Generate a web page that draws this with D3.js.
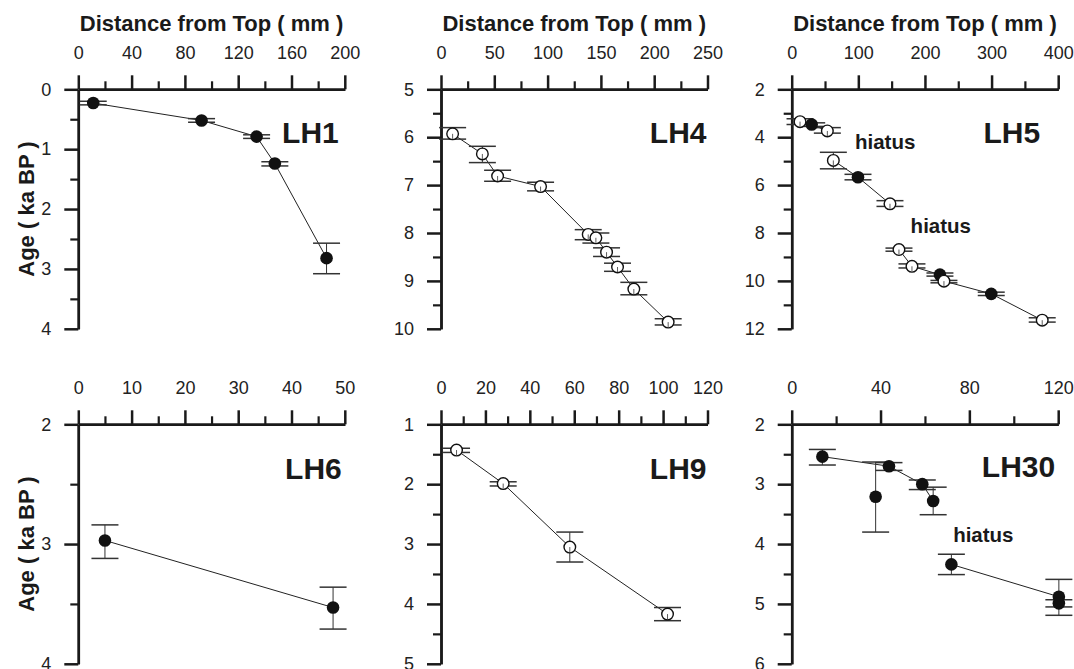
<!DOCTYPE html>
<html>
<head>
<meta charset="utf-8">
<script src="https://cdn.jsdelivr.net/npm/d3@7"></script>
<style>
body { margin: 0; background: #fff; }
svg { display: block; font-family: "Liberation Sans", Arial, sans-serif; }
.axis path, .axis line { stroke: #1a1a1a; }
.axis text { fill: #222; font-size: 18px; font-family: "Liberation Sans", Arial, sans-serif; }
</style>
</head>
<body>
<svg id="chart" width="1074" height="669"></svg>
<script>
// ---- data ----
// LH1
var lh1Dist = [11.2, 92.5, 133.8, 147.5, 186.3];
var lh1Age  = [0.23, 0.52, 0.79, 1.24, 2.82];
var lh1Lo   = [0.20, 0.49, 0.76, 1.21, 2.57];
var lh1Hi   = [0.26, 0.55, 0.82, 1.28, 3.08];
var lh1Open = [0, 0, 0, 0, 0];
var lh1Seg  = [0, 0, 0, 0, 0];
var lh1XTicks = [0, 40, 80, 120, 160, 200];
var lh1YTicks = [0, 1, 2, 3, 4];

// LH4
var lh4Dist = [10.9, 38.8, 53.1, 93.4, 138.1, 145.3, 155.3, 165.6, 180.9, 213.1];
var lh4Age  = [5.93, 6.35, 6.81, 7.03, 8.03, 8.10, 8.40, 8.71, 9.17, 9.86];
var lh4Lo   = [5.80, 6.19, 6.69, 6.94, 7.93, 8.00, 8.31, 8.63, 9.03, 9.79];
var lh4Hi   = [6.04, 6.53, 6.92, 7.12, 8.14, 8.21, 8.49, 8.80, 9.29, 9.92];
var lh4Open = [1, 1, 1, 1, 1, 1, 1, 1, 1, 1];
var lh4Seg  = [0, 0, 0, 0, 0, 0, 0, 0, 0, 0];
var lh4XTicks = [0, 50, 100, 150, 200, 250];
var lh4YTicks = [5, 6, 7, 8, 9, 10];

// LH5
var lh5Dist = [12.5, 30, 53.5, 62.5, 99.5, 147.5, 161, 180.5, 222.5, 228.5, 299.5, 376];
var lh5Age  = [3.35, 3.47, 3.74, 4.97, 5.67, 6.78, 8.69, 9.39, 9.74, 10.01, 10.54, 11.64];
var lh5Lo   = [3.23, 3.40, 3.60, 4.63, 5.55, 6.65, 8.63, 9.29, 9.67, 9.98, 10.47, 11.54];
var lh5Hi   = [3.47, 3.55, 3.83, 5.32, 5.78, 6.89, 8.76, 9.46, 9.80, 10.08, 10.61, 11.72];
var lh5Open = [1, 0, 1, 1, 0, 1, 1, 1, 0, 1, 0, 1];
var lh5Seg  = [0, 0, 0, 1, 1, 1, 2, 2, 2, 2, 2, 2];
var lh5XTicks = [0, 100, 200, 300, 400];
var lh5YTicks = [2, 4, 6, 8, 10, 12];

// LH6
var lh6Dist = [5, 47.8];
var lh6Age  = [2.97, 3.53];
var lh6Lo   = [2.84, 3.36];
var lh6Hi   = [3.12, 3.71];
var lh6Open = [0, 0];
var lh6Seg  = [0, 0];
var lh6XTicks = [0, 10, 20, 30, 40, 50];
var lh6YTicks = [2, 3, 4];

// LH9
var lh9Dist = [7.0, 28, 58, 102];
var lh9Age  = [1.43, 1.99, 3.05, 4.17];
var lh9Lo   = [1.40, 1.96, 2.80, 4.06];
var lh9Hi   = [1.47, 2.03, 3.30, 4.28];
var lh9Open = [1, 1, 1, 1];
var lh9Seg  = [0, 0, 0, 0];
var lh9XTicks = [0, 20, 40, 60, 80, 100, 120];
var lh9YTicks = [1, 2, 3, 4, 5];

// LH30 (second point is not on the line)
var lh30Dist = [13.8, 37.8, 43.8, 58.8, 63.7, 71.9, 120.3, 120.3];
var lh30Age  = [2.54, 3.21, 2.70, 3.00, 3.28, 4.34, 4.88, 4.99];
var lh30Lo   = [2.42, 2.63, 2.64, 2.93, 3.05, 4.17, 4.59, 4.93];
var lh30Hi   = [2.68, 3.80, 2.77, 3.09, 3.51, 4.51, 5.19, 5.05];
var lh30Open = [0, 0, 0, 0, 0, 0, 0, 0];
var lh30Seg  = [0, -1, 0, 0, 0, 1, 1, 1];
var lh30XTicks = [0, 40, 80, 120];
var lh30YTicks = [2, 3, 4, 5, 6];

// hiatus notes [panel, dist, age]
var hiatusNotes = [["LH5", 95, 4.5], ["LH5", 178.5, 8.0], ["LH30", 72.7, 3.96]];

var panels = [
  {name: "LH1", dist: lh1Dist, age: lh1Age, lo: lh1Lo, hi: lh1Hi, open: lh1Open, seg: lh1Seg, xt: lh1XTicks, yt: lh1YTicks, col: 0, row: 0, lx: 6, ly: 54},
  {name: "LH4", dist: lh4Dist, age: lh4Age, lo: lh4Lo, hi: lh4Hi, open: lh4Open, seg: lh4Seg, xt: lh4XTicks, yt: lh4YTicks, col: 1, row: 0, lx: 1, ly: 54},
  {name: "LH5", dist: lh5Dist, age: lh5Age, lo: lh5Lo, hi: lh5Hi, open: lh5Open, seg: lh5Seg, xt: lh5XTicks, yt: lh5YTicks, col: 2, row: 0, lx: 18, ly: 54},
  {name: "LH6", dist: lh6Dist, age: lh6Age, lo: lh6Lo, hi: lh6Hi, open: lh6Open, seg: lh6Seg, xt: lh6XTicks, yt: lh6YTicks, col: 0, row: 1, lx: 3, ly: 55},
  {name: "LH9", dist: lh9Dist, age: lh9Age, lo: lh9Lo, hi: lh9Hi, open: lh9Open, seg: lh9Seg, xt: lh9XTicks, yt: lh9YTicks, col: 1, row: 1, lx: 1, ly: 55},
  {name: "LH30", dist: lh30Dist, age: lh30Age, lo: lh30Lo, hi: lh30Hi, open: lh30Open, seg: lh30Seg, xt: lh30XTicks, yt: lh30YTicks, col: 2, row: 1, lx: 3, ly: 53}
];

// ---- layout ----
var cols = [78.3, 441, 791.7], rows = [89.3, 424.3];
var plotW = 266.5, plotH = 239.5;
var capHalf = 13.5;

var svg = d3.select("#chart");

// minor ticks sit halfway between the labelled ones
function halfSteps(t) {
  var out = [];
  for (var i = 0; i < t.length - 1; i++) out.push((t[i] + t[i + 1]) / 2);
  return out;
}

panels.forEach(function(p) {
  var g = svg.append("g")
    .attr("transform", "translate(" + cols[p.col] + "," + rows[p.row] + ")");

  var x = d3.scaleLinear().domain([p.xt[0], p.xt[p.xt.length - 1]]).range([0, plotW]);
  var y = d3.scaleLinear().domain([p.yt[0], p.yt[p.yt.length - 1]]).range([0, plotH]);

  // axes: minor then major
  g.append("g").attr("class", "axis")
    .call(d3.axisTop(x).tickValues(halfSteps(p.xt)).tickSize(8).tickFormat("").tickSizeOuter(0))
    .call(function(a) { a.selectAll("line").attr("stroke-width", 2.2); a.select(".domain").attr("stroke-width", 2.5); });
  g.append("g").attr("class", "axis")
    .call(d3.axisTop(x).tickValues(p.xt).tickSize(14).tickPadding(16).tickSizeOuter(0).tickFormat(d3.format("d")))
    .call(function(a) { a.selectAll("line").attr("stroke-width", 2.5); a.select(".domain").attr("stroke-width", 2.5); });

  g.append("g").attr("class", "axis")
    .call(d3.axisLeft(y).tickValues(halfSteps(p.yt)).tickSize(8).tickFormat("").tickSizeOuter(0))
    .call(function(a) { a.selectAll("line").attr("stroke-width", 2.2); a.select(".domain").attr("stroke-width", 2.5); });
  g.append("g").attr("class", "axis")
    .call(d3.axisLeft(y).tickValues(p.yt).tickSize(14).tickPadding(13).tickSizeOuter(0).tickFormat(d3.format("d")))
    .call(function(a) { a.selectAll("line").attr("stroke-width", 2.5); a.select(".domain").attr("stroke-width", 2.5); });

  g.selectAll(".axis .domain").attr("stroke", "#1a1a1a");

  var pts = p.dist.map(function(d, i) {
    return {d: d, a: p.age[i], lo: p.lo[i], hi: p.hi[i], open: p.open[i], seg: p.seg[i]};
  });

  // connecting lines, broken at each hiatus
  var segIds = d3.groups(pts.filter(function(q) { return q.seg >= 0; }), function(q) { return q.seg; });
  var line = d3.line().x(function(q) { return x(q.d); }).y(function(q) { return y(q.a); });
  g.selectAll(".conn").data(segIds).enter().append("path")
    .attr("class", "conn")
    .attr("d", function(s) { return line(s[1]); })
    .attr("fill", "none")
    .attr("stroke", "#222")
    .attr("stroke-width", 1);

  // error bars
  var eb = g.selectAll(".err").data(pts).enter().append("g").attr("class", "err")
    .attr("stroke", "#333");
  eb.append("line")
    .attr("x1", function(q) { return x(q.d); }).attr("x2", function(q) { return x(q.d); })
    .attr("y1", function(q) { return y(q.lo); }).attr("y2", function(q) { return y(q.hi); })
    .attr("stroke-width", 1);
  eb.append("line")
    .attr("x1", function(q) { return x(q.d) - capHalf; }).attr("x2", function(q) { return x(q.d) + capHalf; })
    .attr("y1", function(q) { return y(q.lo); }).attr("y2", function(q) { return y(q.lo); })
    .attr("stroke-width", 1.5);
  eb.append("line")
    .attr("x1", function(q) { return x(q.d) - capHalf; }).attr("x2", function(q) { return x(q.d) + capHalf; })
    .attr("y1", function(q) { return y(q.hi); }).attr("y2", function(q) { return y(q.hi); })
    .attr("stroke-width", 1.5);

  // markers
  g.selectAll(".pt").data(pts).enter().append("circle")
    .attr("class", "pt")
    .attr("cx", function(q) { return x(q.d); })
    .attr("cy", function(q) { return y(q.a); })
    .attr("r", function(q) { return q.open ? 5.8 : 6.3; })
    .attr("fill", function(q) { return q.open ? "#fff" : "#111"; })
    .attr("stroke", "#111")
    .attr("stroke-width", function(q) { return q.open ? 1.4 : 0; });

  // inner stub of the line through open markers
  g.selectAll(".stub").data(pts.filter(function(q) { return q.open; })).enter().append("line")
    .attr("x1", function(q) { return x(q.d); }).attr("x2", function(q) { return x(q.d); })
    .attr("y1", function(q) { return y(q.a); }).attr("y2", function(q) { return y(q.a) + 5; })
    .attr("stroke", "#333").attr("stroke-width", 0.8);

  // panel name
  g.append("text")
    .attr("x", plotW - p.lx).attr("y", p.ly)
    .attr("text-anchor", "end")
    .attr("font-size", 30).attr("font-weight", "bold").attr("fill", "#1a1a1a")
    .text(p.name);

  hiatusNotes.filter(function(h) { return h[0] === p.name; }).forEach(function(h) {
    g.append("text")
      .attr("x", x(h[1])).attr("y", y(h[2]))
      .attr("font-size", 20.5).attr("font-weight", "bold").attr("fill", "#1a1a1a")
      .text("hiatus");
  });

  if (p.row === 0) {
    g.append("text")
      .attr("x", plotW / 2).attr("y", -58)
      .attr("text-anchor", "middle")
      .attr("font-size", 22).attr("font-weight", "bold").attr("fill", "#1a1a1a")
      .text("Distance from Top ( mm )");
  }
  if (p.col === 0) {
    g.append("text")
      .attr("transform", "translate(" + (34 - cols[0]) + "," + (plotH / 2) + ") rotate(-90)")
      .attr("text-anchor", "middle")
      .attr("font-size", 22).attr("font-weight", "bold").attr("fill", "#1a1a1a")
      .text("Age ( ka BP )");
  }
});
</script>
</body>
</html>
